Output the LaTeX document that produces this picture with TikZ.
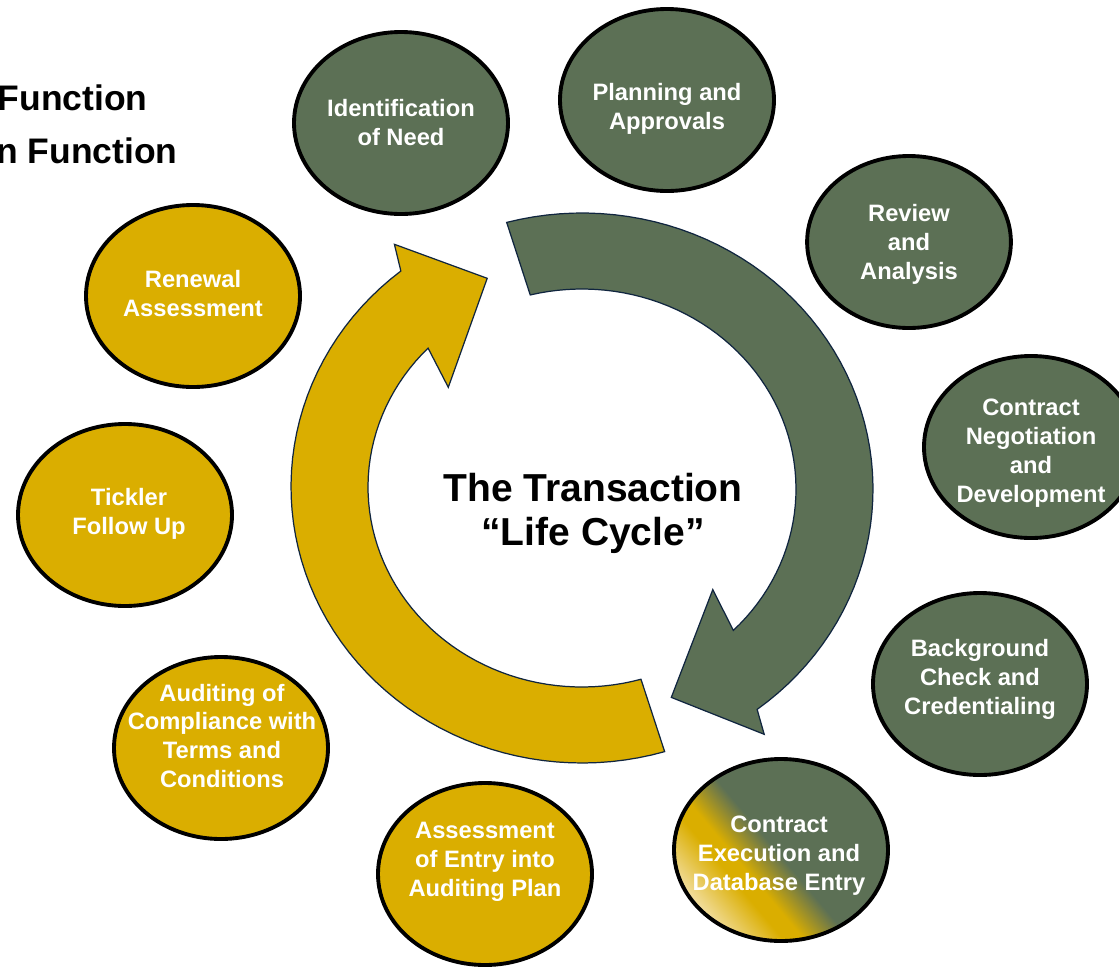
\documentclass[tikz,border=0pt]{standalone}
\usepackage{fontspec}
\setmainfont{Liberation Sans}
\usetikzlibrary{
    shapes.geometric,
}

\definecolor{tgreen}{RGB}{92,112,85}
\definecolor{tgold}{RGB}{218,174,0}
\definecolor{tnavy}{RGB}{16,37,63}
\definecolor{tcream}{RGB}{248,234,200}

% gold fading into green, used for the hand-over stage
\pgfdeclarehorizontalshading{execgrad}{100bp}{
    color(0bp)=(tcream); color(22bp)=(tcream); color(36bp)=(tgold);
    color(40bp)=(tgold); color(49bp)=(tgreen); color(100bp)=(tgreen)}

\newcommand{\stagefont}{\fontsize{13.5}{16.5}\selectfont\bfseries}

\begin{document}
\begin{tikzpicture}[
        x=0.02cm, y=-0.02cm,
        stage/.style={ellipse, draw=black, line width=2.2pt,
            minimum width=121.8pt, minimum height=103.6pt, inner sep=0pt},
        early/.style={stage, fill=tgreen},
        late/.style={stage, fill=tgold},
        stagetext/.style={text=white, align=center, font=\stagefont, inner sep=0pt},
        ring/.style={draw=tnavy, line width=0.7pt},
        heading/.style={font=\fontsize{20.2}{24}\selectfont\bfseries, inner sep=0pt},
    ]
        \path[use as bounding box, fill=white] (0,0) rectangle (1119,967);

        % Headings
        \node[heading, anchor=base east] (fnone) at (148,110) {Function};
        \node[heading, anchor=base east] (fntwo) at (178,163) {n Function};

        % Cycle arrows
        \filldraw[ring, fill=tgreen]
            plot[domain=105:-53, samples=60] ({582+291*cos(\x)},{489-276*sin(\x)})
            -- (764.2,734.3) -- (671.3,697.4) -- (712.8,589.6)
            -- plot[domain=-45:104, samples=60] ({582+214*cos(\x)},{489-200*sin(\x)})
            -- cycle;
        \filldraw[ring, fill=tgold]
            plot[domain=-73.5:-231.5, samples=60] ({582+291*cos(\x)},{487-276*sin(\x)})
            -- (394.4,244.3) -- (487.2,278.3) -- (448.3,387.3)
            -- plot[domain=136:286, samples=60] ({582+214*cos(\x)},{487-200*sin(\x)})
            -- cycle;

        \node[font=\fontsize{22.2}{25}\selectfont\bfseries, align=center] (title) at (593,513)
            {The Transaction\\“Life Cycle”};

        % Front-end stages
        \node[early] (need) at (401,123) {};
        \node[early] (plan) at (667,100) {};
        \node[early, minimum width=116pt, minimum height=97.9pt] (review) at (909,242) {};
        \node[early] (negot) at (1031,447) {};
        \node[early] (backgr) at (980,684) {};

        % Hand-over
        \node[stage, shading=execgrad, shading angle=40] (exec) at (781,850) {};

        % Back-end stages
        \node[late] (entry) at (485,874) {};
        \node[late] (audit) at (221,748) {};
        \node[late] (tickler) at (125,515) {};
        \node[late] (renew) at (193,296) {};

        % Stage captions
        \node[stagetext] (needtext) at (401,123) {Identification\\of Need};
        \node[stagetext] (plantext) at (667,109) {Planning and\\Approvals};
        \node[stagetext] (reviewtext) at (909,244.5) {Review\\and\\Analysis};
        \node[stagetext] (negottext) at (1031,453.5) {Contract\\Negotiation\\and\\Development};
        \node[stagetext] (backgrtext) at (980,679) {Background\\Check and\\Credentialing};
        \node[stagetext] (exectext) at (779,856) {Contract\\Execution and\\Database Entry};
        \node[stagetext] (entrytext) at (485,861.5) {Assessment\\of Entry into\\Auditing Plan};
        \node[stagetext] (audittext) at (222,736) {Auditing of\\Compliance with\\Terms and\\Conditions};
        \node[stagetext] (ticklertext) at (129,514) {Tickler\\Follow Up};
        \node[stagetext] (renewtext) at (193,294) {Renewal\\Assessment};
    \end{tikzpicture}
\end{document}
